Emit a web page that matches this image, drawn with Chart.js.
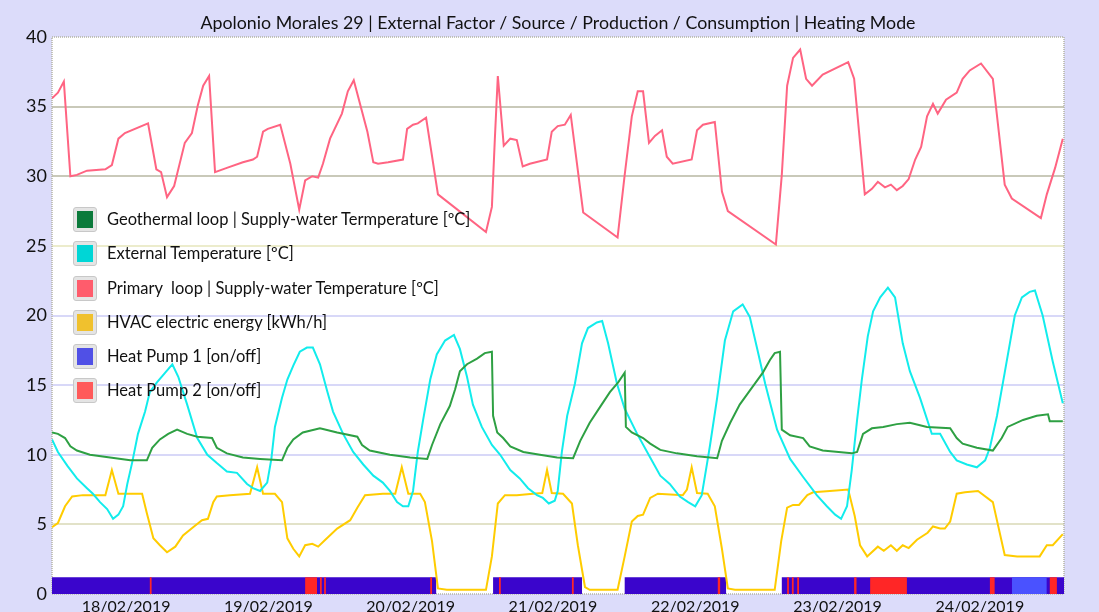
<!DOCTYPE html>
<html>
<head>
<meta charset="utf-8">
<script src="https://cdn.jsdelivr.net/npm/chart.js@4.4.1/dist/chart.umd.min.js"></script>
<style>
  body { margin:0; background:#dcdcfa; }
  #wrap { position:relative; width:1099px; height:612px; overflow:hidden; }
  #title { position:absolute; left:52px; width:1012px; top:11px; text-align:center; font:17.8px Lato, sans-serif; color:#111; }
  #legend { position:absolute; left:73px; top:207px; font:16.5px Lato, sans-serif; color:#111; }
  .item { position:relative; height:34.3px; }
  .box { position:absolute; left:0; top:0; width:22px; height:23px; background:#e4e4e4; border:1px solid #c8c8c8; border-radius:3px; }
  .box span { position:absolute; left:3px; top:3px; width:16px; height:17px; }
  .txt { position:absolute; left:34px; top:2px; white-space:pre; }
</style>
</head>
<body>
<div id="wrap">
  <canvas id="canvas" width="1099" height="612"></canvas>
  <div id="title">Apolonio Morales 29 | External Factor / Source / Production / Consumption | Heating Mode</div>
  <div id="legend"></div>
</div>
<script>
// time axis: hours from 18/02/2019 00:00
var dayTicks = [0, 24, 48, 72, 96, 120, 144];
var dayLabels = ['18/02/2019', '19/02/2019', '20/02/2019', '21/02/2019', '22/02/2019', '23/02/2019', '24/02/2019'];

// Primary loop | Supply-water Temperature
var primaryT = [-12.5,-11.5,-10.5,-9.4,-8.3,-6.6,-3.5,-2.4,-1.3,-0.2,3.7,5.1,5.9,6.9,8.1,9.9,11.1,12.1,13.0,14.0,
  15.0,17.0,19.7,21.4,22.1,23.1,23.9,26.0,27.7,29.2,30.2,31.4,32.4,33.2,34.4,36.4,37.4,38.4,40.7,41.7,
  42.5,44.2,46.7,47.4,48.4,49.2,50.6,52.6,60.7,61.7,62.2,62.7,63.7,64.8,65.9,66.9,68.1,71.0,71.8,72.8,
  74.0,75.0,77.1,82.9,84.1,85.3,86.3,87.2,88.2,89.2,90.4,91.2,92.2,95.4,96.3,97.3,99.3,100.5,101.5,109.6,
  110.6,111.5,112.5,113.7,114.7,115.7,117.5,121.8,122.8,124.6,125.8,126.8,128.0,129.0,130.0,131.0,132.0,133.1,134.1,135.1,
  136.1,136.9,138.3,140.1,141.1,142.3,144.2,146.2,148.2,149.4,154.3,155.3,156.7,158.0];
var primaryV = [35.6,36.0,36.8,30.0,30.1,30.4,30.5,30.8,32.7,33.1,33.8,30.5,30.3,28.5,29.3,32.4,33.1,35.1,36.5,37.2,
  30.3,30.6,31.0,31.2,31.4,33.2,33.4,33.7,30.9,27.6,29.7,30.0,29.9,30.9,32.7,34.5,36.1,36.9,33.2,31.0,
  30.9,31.0,31.2,33.4,33.7,33.8,34.2,28.7,26.0,27.8,32.7,37.2,32.2,32.7,32.6,30.7,30.9,31.2,33.2,33.6,
  33.7,34.4,27.4,25.6,30.1,34.3,36.1,36.1,32.4,32.9,33.3,31.4,30.9,31.2,33.3,33.7,33.9,28.9,27.5,25.1,
  30.1,36.5,38.5,39.1,37.0,36.5,37.3,38.2,37.0,28.7,29.1,29.6,29.2,29.4,29.0,29.3,29.8,31.2,32.1,34.3,
  35.2,34.5,35.5,36.0,37.0,37.6,38.1,37.0,29.4,28.4,27.0,28.7,30.6,32.7];

// External Temperature
var externalT = [-12.5,-11.5,-9.9,-8.3,-6.6,-5.6,-4.4,-3.2,-2.2,-1.3,-0.5,0.2,1.0,2.0,3.2,4.0,5.2,6.6,7.8,8.8,
  10.3,12.0,13.7,15.3,17.0,18.7,20.4,21.4,22.6,23.8,24.5,25.1,26.3,27.2,28.2,29.3,30.5,31.5,32.7,33.9,
  34.9,36.6,38.3,40.0,41.7,43.3,44.5,45.7,46.7,47.6,48.4,49.2,50.1,51.3,52.4,53.8,55.3,56.3,57.5,58.5,
  60.0,61.7,63.1,64.8,66.4,67.8,69.3,70.3,71.3,72.3,72.8,73.5,74.4,75.7,76.9,77.9,79.4,80.3,81.3,82.8,
  84.1,86.2,88.4,90.1,91.7,93.4,94.8,96.0,97.1,98.0,98.5,99.7,101.0,102.4,104.0,105.2,106.4,107.8,109.8,112.0,
  114.2,116.5,118.2,119.6,120.6,121.6,122.4,123.3,124.1,125.1,126.0,127.2,128.5,129.7,131.0,132.2,133.9,135.9,137.3,139.0,
  140.1,141.8,143.5,144.9,145.7,146.9,148.2,149.9,151.1,152.4,153.3,154.6,156.3,158.0];
var externalV = [11.1,10.2,9.2,8.3,7.6,7.2,6.6,6.1,5.4,5.7,6.3,7.9,9.4,11.5,13.1,14.5,15.2,15.9,16.5,15.6,
  13.6,11.2,10.0,9.4,8.8,8.7,7.9,7.6,7.4,8.0,9.7,12.0,14.1,15.4,16.4,17.4,17.7,17.7,16.5,14.6,
  13.1,11.5,10.2,9.3,8.5,8.0,7.4,6.6,6.3,6.3,7.4,10.2,12.5,15.4,17.2,18.2,18.6,17.6,15.6,13.6,
  12.0,10.7,10.0,8.9,8.3,7.6,7.1,6.9,6.5,6.7,7.4,10.2,12.8,15.1,18.0,19.1,19.5,19.6,18.0,15.1,
  13.3,11.5,9.8,8.5,7.9,7.0,6.6,6.3,7.1,9.4,10.7,14.1,18.2,20.3,20.8,19.9,17.7,15.1,11.8,9.7,
  8.4,7.1,6.3,5.7,5.4,6.3,8.9,12.5,15.4,18.5,20.3,21.3,22.0,21.3,18.0,16.0,14.1,11.5,11.5,10.2,
  9.6,9.3,9.1,9.6,10.5,12.8,15.9,20.0,21.3,21.7,21.8,20.0,16.7,13.7];

// Geothermal loop | Supply-water Temperature
var geoT = [-12.5,-11.5,-10.3,-9.4,-8.3,-6.1,-2.7,0.7,3.5,4.4,5.7,7.1,8.6,10.3,12.0,14.5,15.3,17.0,19.7,22.6,
  26.3,27.2,28.2,29.8,32.7,35.6,39.0,39.8,41.1,44.5,47.9,50.8,51.6,53.0,54.6,55.5,56.3,57.5,59.2,60.5,
  61.7,61.9,62.6,63.6,64.8,67.0,69.8,72.7,75.4,76.6,78.2,79.9,81.6,83.0,84.1,84.3,85.3,87.2,88.4,90.1,
  92.9,96.3,99.7,100.5,101.9,103.5,105.2,107.4,108.6,109.4,110.3,110.6,112.0,114.2,115.3,117.5,122.4,123.3,124.3,125.8,
  127.7,130.0,132.2,135.1,139.0,140.1,141.1,143.5,146.2,147.7,148.7,151.3,153.6,155.5,155.8,158.0];
var geoV = [11.6,11.5,11.2,10.6,10.3,10.0,9.8,9.6,9.6,10.5,11.1,11.5,11.8,11.5,11.3,11.2,10.5,10.1,9.8,9.7,
  9.6,10.5,11.1,11.6,11.9,11.6,11.3,10.7,10.3,10.0,9.8,9.7,10.7,12.2,13.5,14.7,16.0,16.5,16.9,17.3,
  17.4,12.8,11.6,11.2,10.6,10.2,10.0,9.8,9.75,11.0,12.3,13.4,14.5,15.2,15.9,12.0,11.6,11.2,10.8,10.35,
  10.1,9.9,9.75,11.0,12.3,13.6,14.6,15.9,16.8,17.3,17.4,11.8,11.4,11.2,10.6,10.3,10.1,10.2,11.5,11.9,
  12.0,12.2,12.3,12.0,11.9,11.2,10.8,10.5,10.3,11.2,12.0,12.5,12.8,12.9,12.4,12.4];

// HVAC electric energy
var hvacT = [-12.5,-11.5,-10.3,-9.1,-7.3,-3.5,-2.4,-1.3,0.2,2.7,3.5,4.6,5.7,6.9,8.3,9.6,11.3,12.8,13.8,14.7,
  15.3,17.5,20.9,22.1,23.1,25.1,26.3,27.2,28.2,29.2,30.2,31.4,32.4,33.6,35.6,37.8,39.0,40.3,43.3,45.4,
  46.5,47.6,49.6,50.4,51.6,52.6,54.1,60.7,61.7,62.7,63.9,65.9,68.6,70.2,71.0,71.8,73.7,75.2,76.2,77.4,
  78.2,82.9,84.1,85.3,86.3,87.2,88.4,89.7,93.9,94.6,95.4,96.3,98.1,99.3,100.5,101.5,102.7,109.4,110.5,111.5,
  112.5,113.5,114.9,115.9,118.7,121.8,122.9,123.8,125.0,126.8,127.8,129.0,130.0,131.0,132.0,133.4,135.2,136.1,137.3,138.1,
  139.0,140.1,141.5,143.7,146.2,148.2,150.3,154.1,155.3,156.3,158.0];
var hvacV = [4.8,5.1,6.3,7.0,7.1,7.1,8.9,7.2,7.2,7.2,5.8,4.0,3.5,3.0,3.4,4.2,4.8,5.3,5.4,6.6,
  7.0,7.1,7.2,9.1,7.2,7.2,6.6,4.0,3.25,2.7,3.5,3.6,3.4,3.9,4.7,5.3,6.2,7.1,7.2,7.2,
  9.1,7.2,7.2,6.6,3.8,0.4,0.3,0.3,2.7,6.5,7.1,7.1,7.2,7.25,8.9,7.25,7.2,6.5,3.5,0.5,
  0.3,0.3,2.7,5.2,5.6,5.7,6.9,7.2,7.1,7.5,9.1,7.25,7.2,6.3,3.25,0.4,0.3,0.3,3.8,6.2,
  6.4,6.4,7.1,7.3,7.4,7.5,5.6,3.5,2.7,3.4,3.1,3.5,3.1,3.5,3.3,3.9,4.4,4.85,4.7,4.7,
  5.2,7.2,7.3,7.4,6.6,2.8,2.7,2.7,3.5,3.5,4.3];

// Heat pump status band (1.2 = on, 0 = off), value holds until next point
var hp1T = [-12.5, 52.3, 61.9, 76.9, 84.1, 101.2, 110.6, 158.2];
var hp1V = [1.2, 0, 1.2, 0, 1.2, 0, 1.2, 1.2];
var hp1OnlyT = [149.4, 155.3];
var hp1OnlyV = [1.2, 0];
var hp2On  = [4.0, 30.2, 32.7, 33.4, 51.3, 62.9, 75.2, 99.8, 111.5, 112.3, 113.2, 122.8, 125.5, 145.7, 155.8];
var hp2Off = [4.3, 32.2, 33.0, 33.7, 51.6, 63.2, 75.5, 100.2, 111.8, 112.6, 113.5, 123.2, 131.7, 146.5, 157.0];

var legendItems = [
  ['Geothermal loop | Supply-water Termperature [ºC]', '#0b7a3b'],
  ['External Temperature [ºC]', '#00d6d6'],
  ['Primary  loop | Supply-water Temperature [ºC]', '#ff5c6c'],
  ['HVAC electric energy [kWh/h]', '#f0c12e'],
  ['Heat Pump 1 [on/off]', '#5050e6'],
  ['Heat Pump 2 [on/off]', '#ff5a5a']
];

var gridColors = {35:'#c9c9b9', 30:'#c9c9b9', 25:'#ececcc', 20:'#d8d8f8', 15:'#d8d8f8', 10:'#d8d8f8', 5:'#e2e2c8'};

function pts(t, v) {
  var out = [];
  for (var i = 0; i < t.length; i++) out.push({x: t[i], y: v[i]});
  return out;
}

var hp2 = [{x: -12.5, y: 0}];
for (var i = 0; i < hp2On.length; i++) {
  hp2.push({x: hp2On[i], y: 1.2});
  hp2.push({x: hp2Off[i], y: 0});
}
hp2.push({x: 158.2, y: 0});

var lg = document.getElementById('legend');
for (var i = 0; i < legendItems.length; i++) {
  var d = document.createElement('div');
  d.className = 'item';
  d.innerHTML = '<div class="box"><span style="background:' + legendItems[i][1] + '"></span></div><div class="txt"></div>';
  d.querySelector('.txt').textContent = legendItems[i][0];
  lg.appendChild(d);
}

var areaPlugin = {
  id: 'area',
  beforeDraw: function(chart) {
    var a = chart.chartArea, c = chart.ctx;
    c.save();
    c.fillStyle = '#ffffff';
    c.fillRect(a.left, a.top, a.right - a.left, a.bottom - a.top);
    c.restore();
  },
  beforeDatasetsDraw: function(chart) {
    var a = chart.chartArea, c = chart.ctx;
    c.save();
    c.strokeStyle = '#b4b4a4';
    c.lineWidth = 1.5;
    c.setLineDash([1, 1]);
    c.strokeRect(a.left, a.top, a.right - a.left, a.bottom - a.top);
    c.restore();
  }
};

function line(data, color, order) {
  return { data: data, borderColor: color, borderWidth: 2, pointRadius: 0, fill: false, tension: 0, order: order };
}
function band(data, color, order) {
  return { data: data, borderColor: 'rgba(0,0,0,0)', borderWidth: 0, backgroundColor: color, pointRadius: 0,
           stepped: 'before', fill: 'origin', order: order };
}

Chart.defaults.font.family = 'Lato, sans-serif';
Chart.defaults.color = '#111';

var ctx = document.getElementById('canvas').getContext('2d');
var myChart = new Chart(ctx, {
  type: 'line',
  data: {
    datasets: [
      line(pts(primaryT, primaryV), '#ff6482', 0),
      line(pts(geoT, geoV), '#2ea043', 0),
      line(pts(externalT, externalV), '#12ecec', 0),
      line(pts(hvacT, hvacV), '#ffcc00', 0),
      band(hp2, '#ff2626', 3),
      band(pts(hp1OnlyT, hp1OnlyV), '#4a52ff', 4),
      band(pts(hp1T, hp1V), '#3a05cc', 5)
    ]
  },
  plugins: [areaPlugin],
  options: {
    responsive: false,
    animation: false,
    layout: { padding: { top: 37, right: 35, left: 0, bottom: 0 } },
    plugins: { legend: { display: false }, tooltip: { enabled: false }, title: { display: false } },
    scales: {
      x: {
        type: 'linear',
        min: -12.5,
        max: 158.2,
        grid: { display: false, drawTicks: false, tickLength: 0 },
        border: { display: false },
        afterFit: function(s) { s.height = 18; },
        afterBuildTicks: function(s) { s.ticks = dayTicks.map(function(v) { return {value: v}; }); },
        ticks: {
          autoSkip: false, maxRotation: 0, padding: 3,
          font: { size: 16 },
          callback: function(v) { return dayLabels[dayTicks.indexOf(v)]; }
        }
      },
      y: {
        min: 0,
        max: 40,
        afterFit: function(s) { s.width = 52; },
        border: { display: false },
        grid: {
          drawTicks: false,
          lineWidth: 2,
          color: function(c) { return gridColors[c.tick.value] || 'rgba(0,0,0,0)'; }
        },
        ticks: { stepSize: 5, padding: 5, font: { size: 18 } }
      }
    }
  }
});
</script>
</body>
</html>
